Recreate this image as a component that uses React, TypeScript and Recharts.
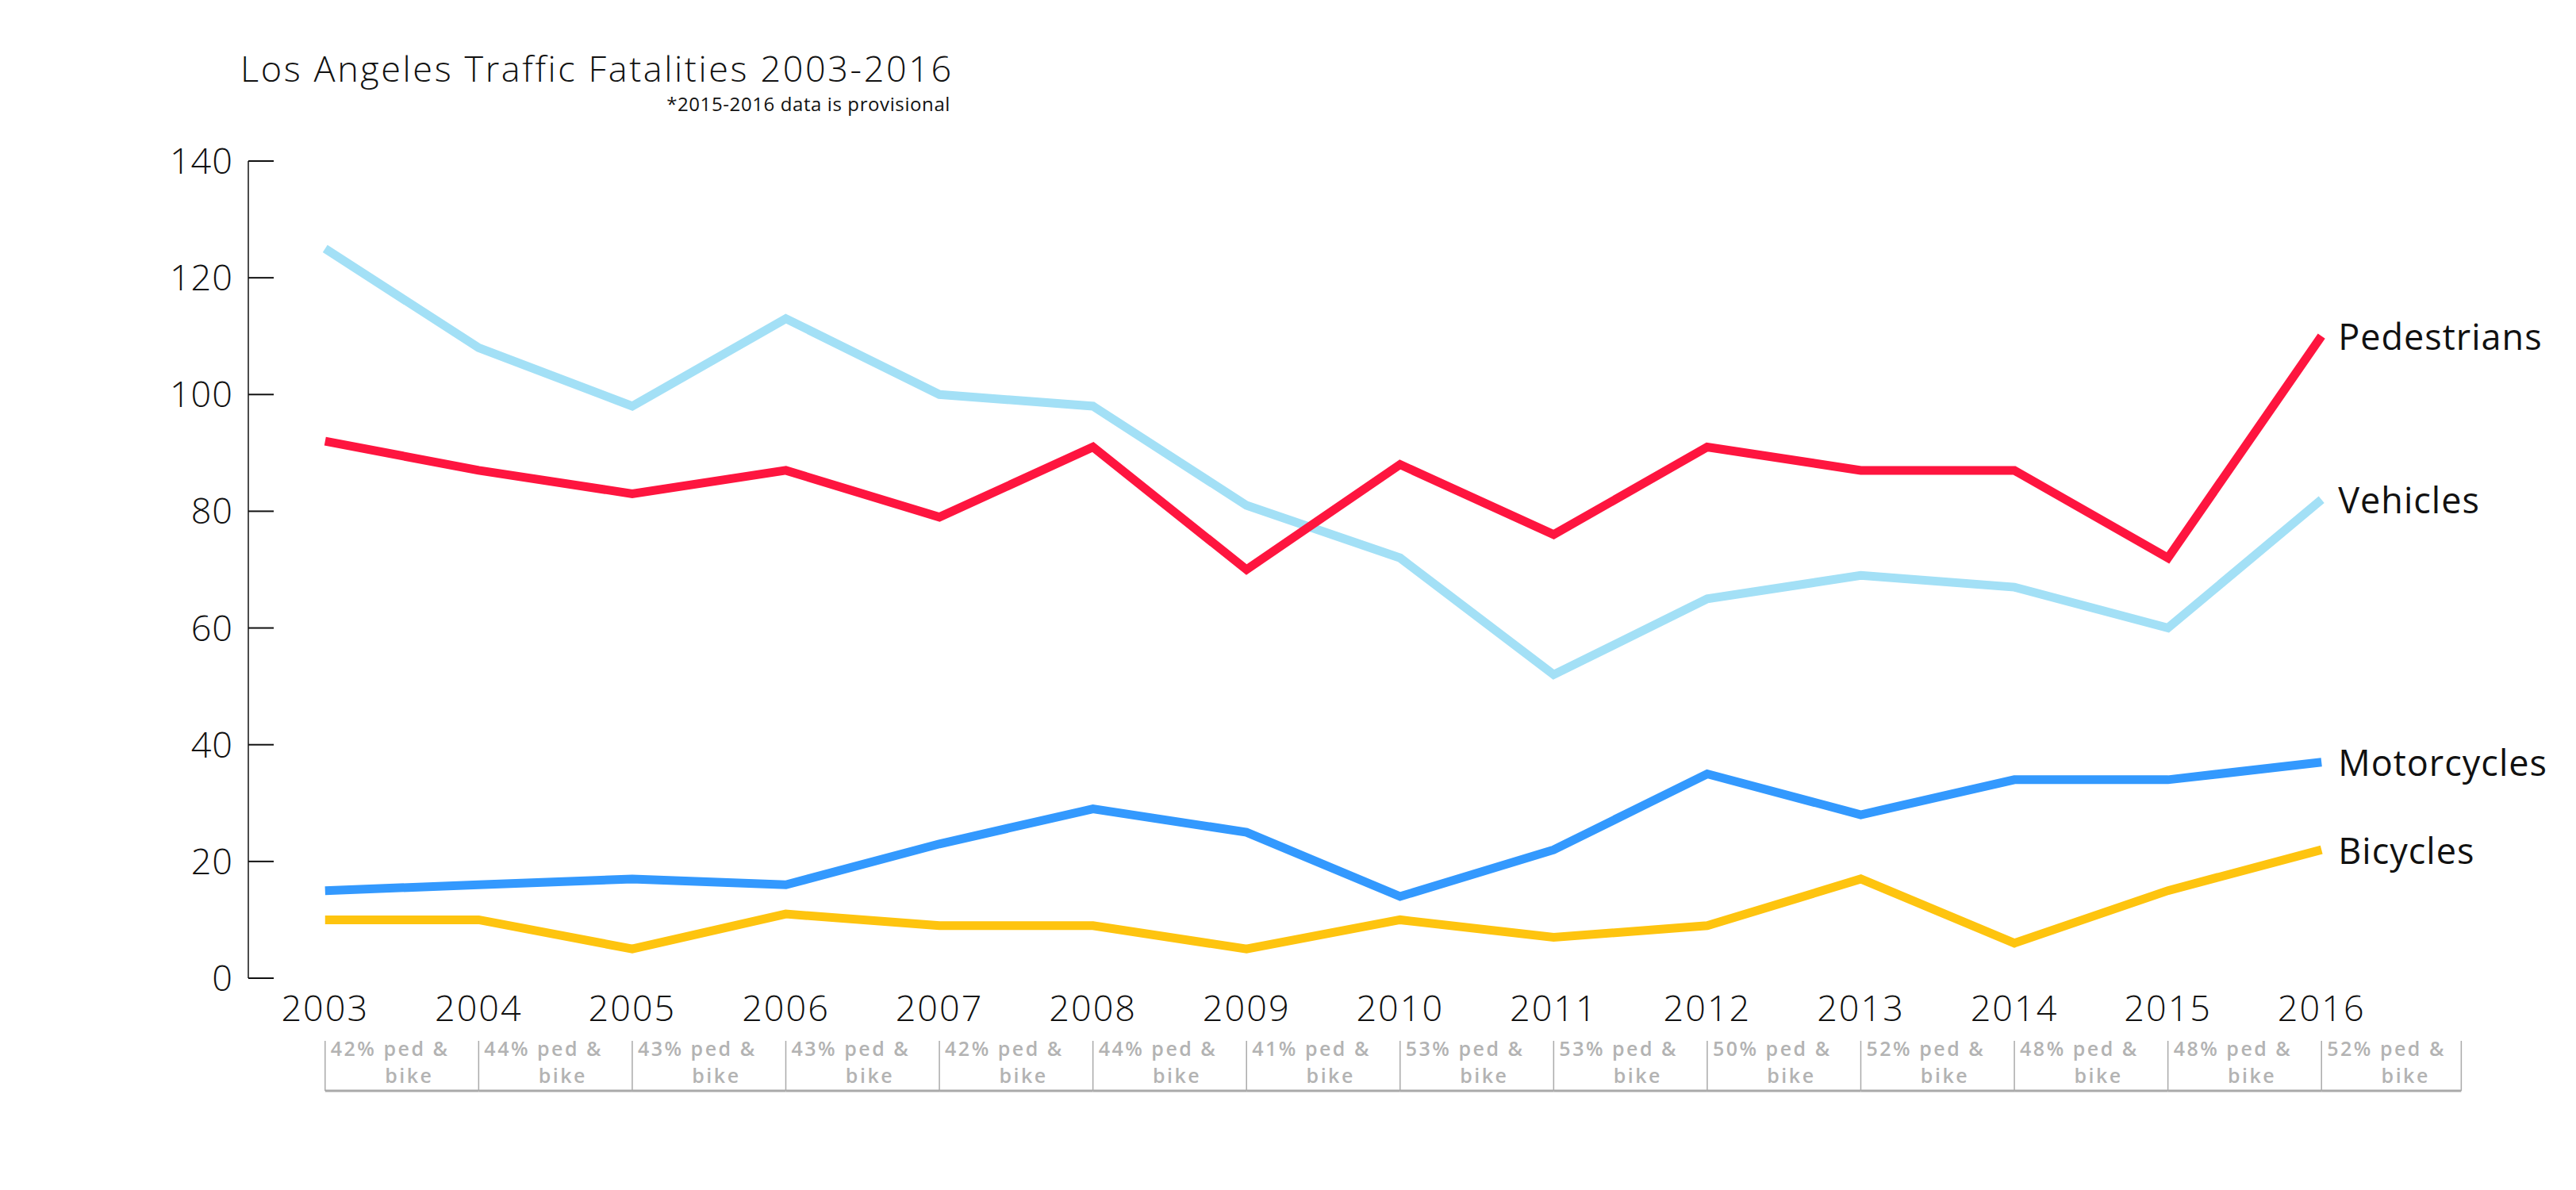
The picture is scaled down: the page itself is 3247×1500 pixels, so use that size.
import { LineChart, Line, XAxis, YAxis, LabelList } from "recharts";

const years = ["2003", "2004", "2005", "2006", "2007", "2008", "2009", "2010", "2011", "2012", "2013", "2014", "2015", "2016"];
const pedestrians = [92, 87, 83, 87, 79, 91, 70, 88, 76, 91, 87, 87, 72, 110];
const vehicles = [125, 108, 98, 113, 100, 98, 81, 72, 52, 65, 69, 67, 60, 82];
const motorcycles = [15, 16, 17, 16, 23, 29, 25, 14, 22, 35, 28, 34, 34, 37];
const bicycles = [10, 10, 5, 11, 9, 9, 5, 10, 7, 9, 17, 6, 15, 22];
const pedBikeShare = ["42%", "44%", "43%", "43%", "42%", "44%", "41%", "53%", "53%", "50%", "52%", "48%", "48%", "52%"];
const yTicks = [0, 20, 40, 60, 80, 100, 120, 140];
const bandEdges = [1, 2, 3, 4, 5, 6, 7, 8, 9, 10, 11, 12, 13, 14];

const series = [
  { name: "Vehicles", values: vehicles, color: "#a3e0f6" },
  { name: "Motorcycles", values: motorcycles, color: "#3399fe" },
  { name: "Bicycles", values: bicycles, color: "#fec40f" },
  { name: "Pedestrians", values: pedestrians, color: "#fe153f" },
];

const data = years.map((year, i) => {
  const row: Record<string, string | number> = { year, share: pedBikeShare[i] };
  series.forEach((s) => (row[s.name] = s.values[i]));
  return row;
});

// layout
const W = 3247;
const H = 1500;
const Y_AXIS_W = 313;
const MARGIN = { top: 203, right: 224, bottom: 87, left: 0 };
const PLOT_W = W - Y_AXIS_W - MARGIN.right;
const BAND = PLOT_W / years.length;
const FONT = "'Open Sans', Lato, sans-serif";

function YearTick({ x, y, payload }: any) {
  return (
    <text x={x} y={y + 54} textAnchor="middle" fontFamily={FONT} fontWeight={300} fontSize={45} letterSpacing={2} fill="#111">
      {payload.value}
    </text>
  );
}

// cell under each year: "NN% ped & bike", bracketed by grey rules
function ShareTick({ x, y, index }: any) {
  const last = index === years.length - 1;
  const w = last ? BAND * 0.91 : BAND;
  const textStyle = { fontFamily: FONT, fontWeight: 600, fontSize: 25, letterSpacing: 2.5, fill: "#b3b3b3" };
  return (
    <g>
      <line x1={x} x2={x} y1={y - 1} y2={y + 62} stroke="#aaa" strokeWidth={1.5} />
      {last && <line x1={x + w} x2={x + w} y1={y - 1} y2={y + 62} stroke="#aaa" strokeWidth={1.5} />}
      <line x1={x} x2={x + w} y1={y + 62} y2={y + 62} stroke="#aaa" strokeWidth={3} />
      <text x={x + 7} y={y + 18} {...textStyle}>
        {pedBikeShare[index]} ped &amp;
      </text>
      <text x={x + 106} y={y + 52} textAnchor="middle" {...textStyle}>
        bike
      </text>
    </g>
  );
}

function endLabel(name: string) {
  return (props: any) => {
    const { x, y, index } = props;
    if (index !== years.length - 1) return null;
    return (
      <text x={x + 21} y={y} dominantBaseline="central" fontFamily={FONT} fontSize={45} letterSpacing={1} fill="#111">
        {name}
      </text>
    );
  };
}

export default function App() {
  return (
    <div style={{ position: "relative", width: W, height: H, background: "#fff" }}>
      <style>{"body{margin:0}"}</style>
      <LineChart width={W} height={H} data={data} margin={MARGIN}>
        <XAxis
          xAxisId="edges"
          type="number"
          domain={[0, years.length]}
          allowDataOverflow
          ticks={bandEdges}
          tick={false}
          height={0}
          tickSize={-27}
          axisLine={{ stroke: "#111", strokeWidth: 2.5 }}
          tickLine={{ stroke: "#111", strokeWidth: 1.5 }}
        />
        <XAxis
          dataKey="year"
          scale="band"
          height={80}
          axisLine={false}
          tickLine={false}
          tickSize={0}
          tickMargin={0}
          interval={0}
          tick={<YearTick />}
        />
        <XAxis
          xAxisId="share"
          dataKey="year"
          scale="band"
          height={100}
          axisLine={false}
          tickLine={false}
          tickSize={0}
          tickMargin={0}
          interval={0}
          tick={<ShareTick />}
        />
        <YAxis
          width={Y_AXIS_W}
          domain={[0, 140]}
          ticks={yTicks}
          interval={0}
          tickSize={-32}
          tickMargin={51}
          axisLine={{ stroke: "#111", strokeWidth: 1.5 }}
          tickLine={{ stroke: "#111", strokeWidth: 2 }}
          tick={{ fontSize: 45, fontFamily: FONT, fontWeight: 300, fill: "#111", letterSpacing: 1 }}
        />
        {series.map((s) => (
          <Line
            key={s.name}
            type="linear"
            dataKey={s.name}
            stroke={s.color}
            strokeWidth={11}
            dot={false}
            activeDot={false}
            isAnimationActive={false}
          >
            <LabelList dataKey={s.name} content={endLabel(s.name)} />
          </Line>
        ))}
      </LineChart>
      <svg width={1300} height={170} style={{ position: "absolute", left: 0, top: 0, pointerEvents: "none" }}>
        <text x={303} y={103} fontFamily={FONT} fontWeight={300} fontSize={45} letterSpacing={2.6} fill="#111">
          Los Angeles Traffic Fatalities 2003-2016
        </text>
        <text x={1198} y={140} textAnchor="end" fontFamily={FONT} fontSize={24} letterSpacing={0.6} fill="#111">
          *2015-2016 data is provisional
        </text>
      </svg>
    </div>
  );
}
